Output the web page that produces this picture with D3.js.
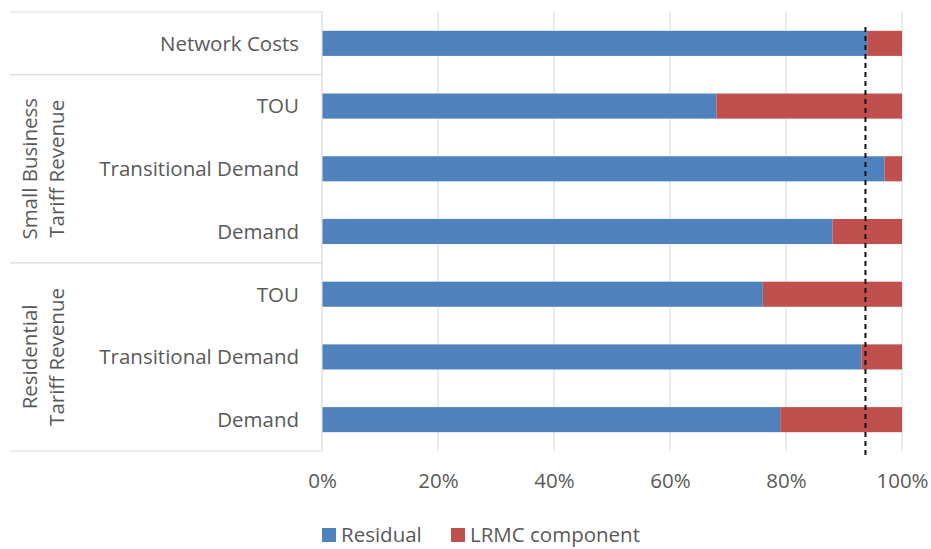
<!DOCTYPE html>
<html>
<head>
<meta charset="utf-8">
<script src="https://cdn.jsdelivr.net/npm/d3@7"></script>
<style>
  html, body { margin: 0; padding: 0; background: #fff; }
  svg { display: block; font-family: "Open Sans", sans-serif; }
</style>
</head>
<body>
<svg id="chart" width="931" height="549"></svg>
<script>
// Tariff categories, top to bottom
const categories = ["Network Costs", "TOU", "Transitional Demand", "Demand", "TOU", "Transitional Demand", "Demand"];
// Share of revenue (%) recovered as residual vs. LRMC component
const residual = [94, 68, 97, 88, 76, 93, 79];
const lrmc = residual.map(v => 100 - v);
// Group headers spanning category rows [first, last]
const groupNames = [["Small Business", "Tariff Revenue"], ["Residential", "Tariff Revenue"]];
const groupSpans = [[1, 3], [4, 6]];
// Reference level marked with a dashed line (%)
const referenceLevel = [93.7];
const xTicks = [0, 20, 40, 60, 80, 100];
const seriesNames = ["Residual", "LRMC component"];
const colors = ["#4F81BD", "#C0504D"];

const svg = d3.select("#chart");
const textColor = "#595959";
const lineColor = "#d9d9d9";
const fontSize = 20.5;

const margin = { left: 322, right: 29, top: 12, bottom: 98 };
const W = 931, H = 549;
const x = d3.scaleLinear().domain([0, 100]).range([margin.left, W - margin.right]);
const keys = categories.map((c, i) => i);
const y = d3.scaleBand().domain(keys).range([margin.top, H - margin.bottom])
  .paddingInner(0.6).paddingOuter(0.3);
const step = y.step();
const yTop = margin.top, yBottom = H - margin.bottom;
const rowTop = i => y(i) - y.paddingOuter() * step;

// vertical gridlines
svg.append("g").selectAll("line").data(xTicks.slice(1)).join("line")
  .attr("x1", d => x(d)).attr("x2", d => x(d))
  .attr("y1", yTop).attr("y2", yBottom)
  .attr("stroke", lineColor).attr("stroke-width", 1);

// stacked bars
const stackData = keys.map(i => ({ key: i, residual: residual[i], lrmc: lrmc[i] }));
const stack = d3.stack().keys(["residual", "lrmc"])(stackData);
svg.append("g").selectAll("g").data(stack).join("g")
  .attr("fill", (d, i) => colors[i])
  .selectAll("rect").data(d => d).join("rect")
  .attr("x", d => x(d[0]))
  .attr("width", d => x(d[1]) - x(d[0]))
  .attr("y", d => y(d.data.key))
  .attr("height", y.bandwidth());

// category axis line and group separators
const axisG = svg.append("g").attr("stroke", lineColor).attr("stroke-width", 1.2);
axisG.append("line").attr("x1", x(0)).attr("x2", x(0)).attr("y1", yTop).attr("y2", yBottom);
const sepRows = [0, 1, 4];
axisG.selectAll("line.sep").data(sepRows).join("line").attr("class", "sep")
  .attr("x1", 10).attr("x2", x(0))
  .attr("y1", d => rowTop(d)).attr("y2", d => rowTop(d));
axisG.append("line").attr("x1", 10).attr("x2", x(0)).attr("y1", yBottom).attr("y2", yBottom);

// category labels
svg.append("g").selectAll("text").data(keys).join("text")
  .attr("x", x(0) - 23)
  .attr("y", d => y(d) + y.bandwidth() / 2)
  .attr("dy", "0.36em")
  .attr("text-anchor", "end")
  .attr("fill", textColor)
  .attr("font-size", fontSize)
  .text(d => categories[d]);

// group labels, rotated
const lineX = [30, 57];
groupNames.forEach((lines, g) => {
  const [a, b] = groupSpans[g];
  const cy = (rowTop(a) + rowTop(b) + step) / 2;
  lines.forEach((t, k) => {
    svg.append("text")
      .attr("transform", `translate(${lineX[k]},${cy}) rotate(-90)`)
      .attr("dy", "0.36em")
      .attr("text-anchor", "middle")
      .attr("fill", textColor)
      .attr("font-size", fontSize)
      .text(t);
  });
});

// reference dashed line
svg.append("g").selectAll("line").data(referenceLevel).join("line")
  .attr("x1", d => x(d)).attr("x2", d => x(d))
  .attr("y1", 27).attr("y2", yBottom + 6)
  .attr("stroke", "#111").attr("stroke-width", 2)
  .attr("stroke-dasharray", "5,4");

// value axis labels
const xAxis = d3.axisBottom(x).tickValues(xTicks).tickFormat(d => d + "%").tickSize(0).tickPadding(0);
const xg = svg.append("g").attr("transform", `translate(0,${yBottom + 37})`).call(xAxis);
xg.select(".domain").remove();
xg.selectAll("text").attr("fill", textColor).attr("font-size", fontSize)
  .attr("font-family", "Open Sans, sans-serif").attr("dy", "0");

// legend
const legendX = [322, 451];
const legend = svg.append("g").selectAll("g").data(seriesNames).join("g")
  .attr("transform", (d, i) => `translate(${legendX[i]},528)`);
legend.append("rect").attr("width", 14).attr("height", 14).attr("fill", (d, i) => colors[i]);
legend.append("text").attr("x", 19).attr("y", 7).attr("dy", "0.36em")
  .attr("fill", textColor).attr("font-size", fontSize).text(d => d);
</script>
</body>
</html>
